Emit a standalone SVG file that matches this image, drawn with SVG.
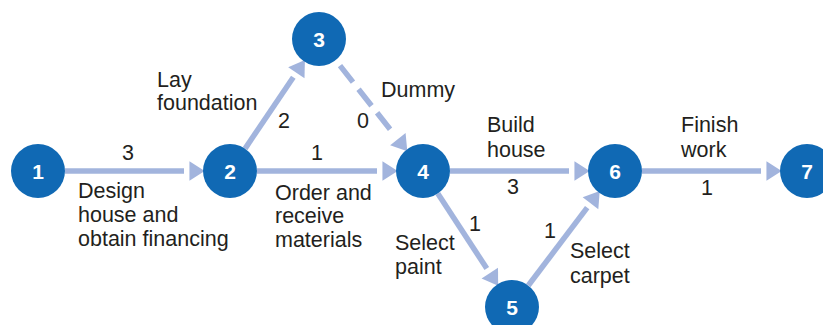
<svg xmlns="http://www.w3.org/2000/svg" width="823" height="325" viewBox="0 0 823 325">
<style>
.node circle{fill:#1069b4}
.node text{fill:#fff;font-family:"Liberation Sans",Arial,sans-serif;font-weight:bold;font-size:21px;text-anchor:middle}
.edge{stroke:#a2b4dd;stroke-width:5.5;fill:none;marker-end:url(#ah)}
.dash{stroke-dasharray:21 9}
.lbl{fill:#231f20;font-family:"Liberation Sans",Arial,sans-serif;font-size:21.5px}
.num{text-anchor:middle}
</style>
<defs>
<marker id="ah" markerUnits="userSpaceOnUse" markerWidth="24" markerHeight="24" viewBox="-2 -10 22 20" refX="0" refY="0" orient="auto">
<path d="M5,-9 L19,0 L5,9 z" fill="#a2b4dd"/>
</marker>
</defs>
<rect width="823" height="325" fill="#fff"/>
<g id="connectors">
<line class="edge" x1="65" y1="171" x2="184" y2="171"/>
<line class="edge" x1="257" y1="171" x2="377" y2="171"/>
<line class="edge" x1="450" y1="171" x2="569" y2="171"/>
<line class="edge" x1="642" y1="171" x2="761" y2="171"/>
<line class="edge" x1="245.1" y1="148.6" x2="293.3" y2="77.2"/>
<line class="edge dash" x1="340" y1="65.6" x2="394.5" y2="134.9"/>
<line class="edge" x1="437.8" y1="193.6" x2="486.8" y2="268.5"/>
<line class="edge" x1="528.3" y1="285.5" x2="587.2" y2="207.6"/>
</g>
<g id="labels" class="lbl">
<text class="num" x="128" y="160">3</text>
<text x="78"><tspan x="78" y="198">Design</tspan><tspan x="78" y="222">house and</tspan><tspan x="78" y="246">obtain financing</tspan></text>
<text x="157"><tspan x="157" y="87">Lay</tspan><tspan x="157" y="110">foundation</tspan></text>
<text class="num" x="284" y="128">2</text>
<text class="num" x="363" y="128">0</text>
<text x="381" y="97">Dummy</text>
<text class="num" x="317" y="160">1</text>
<text x="275"><tspan x="275" y="200">Order and</tspan><tspan x="275" y="223">receive</tspan><tspan x="275" y="247">materials</tspan></text>
<text x="487"><tspan x="487" y="132">Build</tspan><tspan x="487" y="157">house</tspan></text>
<text class="num" x="513" y="194">3</text>
<text class="num" x="475" y="231">1</text>
<text x="395"><tspan x="395" y="250">Select</tspan><tspan x="395" y="274">paint</tspan></text>
<text class="num" x="550" y="238">1</text>
<text x="570"><tspan x="570" y="258">Select</tspan><tspan x="570" y="283">carpet</tspan></text>
<text x="681"><tspan x="681" y="132">Finish</tspan><tspan x="681" y="157">work</tspan></text>
<text class="num" x="707" y="195">1</text>
</g>
<g id="node1" class="node"><circle cx="38" cy="171" r="27"/><text x="38" y="178.5">1</text></g>
<g id="node2" class="node"><circle cx="230" cy="171" r="27"/><text x="230" y="178.5">2</text></g>
<g id="node3" class="node"><circle cx="319" cy="39" r="27"/><text x="319" y="46.5">3</text></g>
<g id="node4" class="node"><circle cx="423" cy="171" r="27"/><text x="423" y="178.5">4</text></g>
<g id="node5" class="node"><circle cx="512" cy="307" r="27"/><text x="512" y="314.5">5</text></g>
<g id="node6" class="node"><circle cx="615" cy="171" r="27"/><text x="615" y="178.5">6</text></g>
<g id="node7" class="node"><circle cx="807" cy="171" r="27"/><text x="807" y="178.5">7</text></g>
</svg>
